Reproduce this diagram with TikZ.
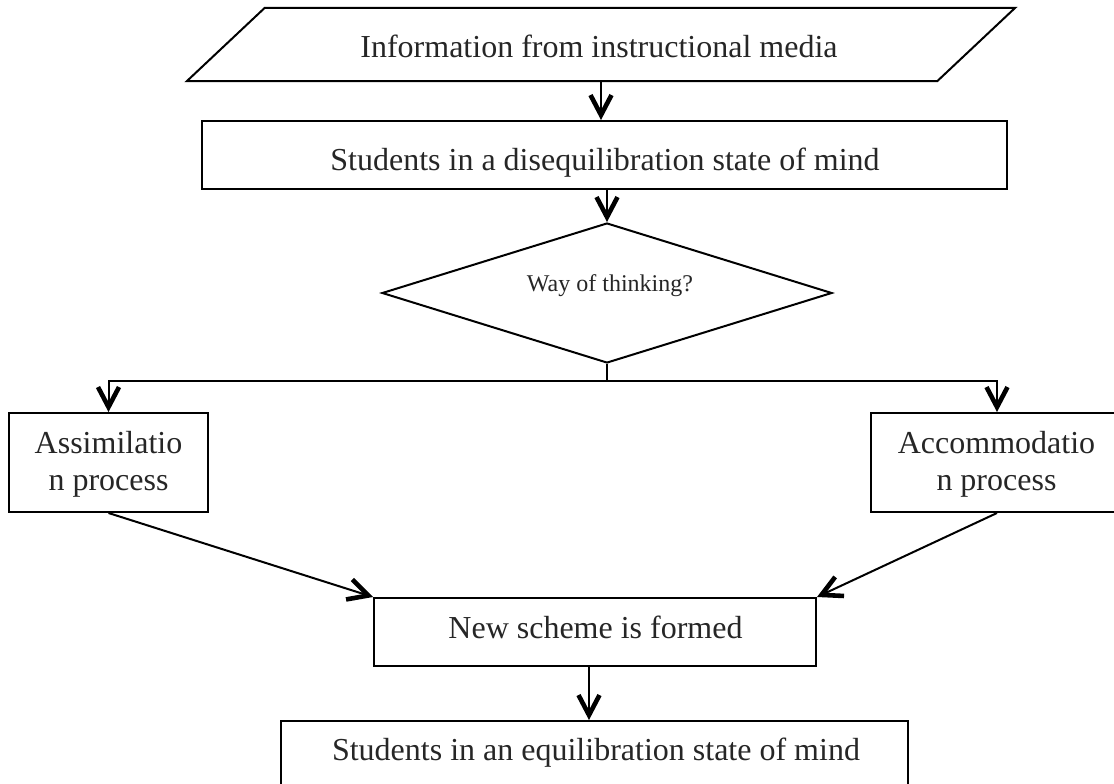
\documentclass[tikz,border=0pt]{standalone}
\usepackage{fontspec}
\setmainfont{Liberation Serif}
\usetikzlibrary{arrows.meta,shapes.geometric}
\begin{document}
\begin{tikzpicture}[x=1pt,y=-1pt,
  outl/.style={draw=black,line width=2pt,inner sep=0pt},
  boxs/.style={outl,rectangle},
  txt/.style={inner sep=0pt,font=\fontsize{32}{37}\selectfont,text=black!85},
  arr/.style={line width=2pt,-{Straight Barb[length=20pt,width=21pt,line width=4.6pt]}},
  ln/.style={line width=2pt}]
\useasboundingbox (0,0) rectangle (1114,784);

% input parallelogram
\node[inner sep=0pt, minimum width=750pt, minimum height=73pt] (info) at (601,44.5) {};
\draw[ln, line join=miter] ([xshift=39pt]info.north west) -- ([xshift=39pt]info.north east)
  -- ([xshift=-39pt]info.south east) -- ([xshift=-39pt]info.south west) -- cycle;
\node[txt, anchor=base] (infotext) at (599,58) {Information from instructional media};

% disequilibration
\node[boxs, minimum width=805pt, minimum height=68pt] (dis) at (604.5,155) {};
\node[txt, anchor=base] (distext) at (605,170) {Students in a disequilibration state of mind};

% decision
\node[outl, diamond, minimum width=450pt, minimum height=140pt] (dia) at (607,293) {};
\node[txt, font=\fontsize{24}{28}\selectfont, anchor=base] (diatext) at (610,291) {Way of thinking?};

% processes
\node[boxs, minimum width=199pt, minimum height=99pt] (assim) at (108.5,462.5) {};
\node[txt, align=center] (assimtext) at (108.5,464) {Assimilatio\\n process};
\node[boxs, minimum width=252pt, minimum height=99pt] (accom) at (997,462.5) {};
\node[txt, align=center] (accomtext) at (996.5,464) {Accommodatio\\n process};

% new scheme
\node[boxs, minimum width=442pt, minimum height=68pt] (news) at (595,632) {};
\node[txt, anchor=base] (newstext) at (595.5,638) {New scheme is formed};

% equilibration
\node[boxs, minimum width=627pt, minimum height=80pt, anchor=north] (eq) at (594.5,720) {};
\node[txt, anchor=base] (eqtext) at (596,760) {Students in an equilibration state of mind};

% connectors
\draw[arr] (info.south) -- (info.south |- dis.north);
\draw[arr] (dia.north |- dis.south) -- (dia.north);
\coordinate (split) at ([yshift=-17pt]dia.south);
\draw[ln] (dia.south) -- (split);
\draw[arr] (split) -| (assim.north);
\draw[arr] (split) -| (accom.north);
\draw[arr] (assim.south) -- (news.north west);
\draw[arr] (accom.south) -- (news.north east);
\draw[arr] ([xshift=-6pt]news.south) -- ([xshift=-6pt]news.south |- eq.north);
\end{tikzpicture}
\end{document}
